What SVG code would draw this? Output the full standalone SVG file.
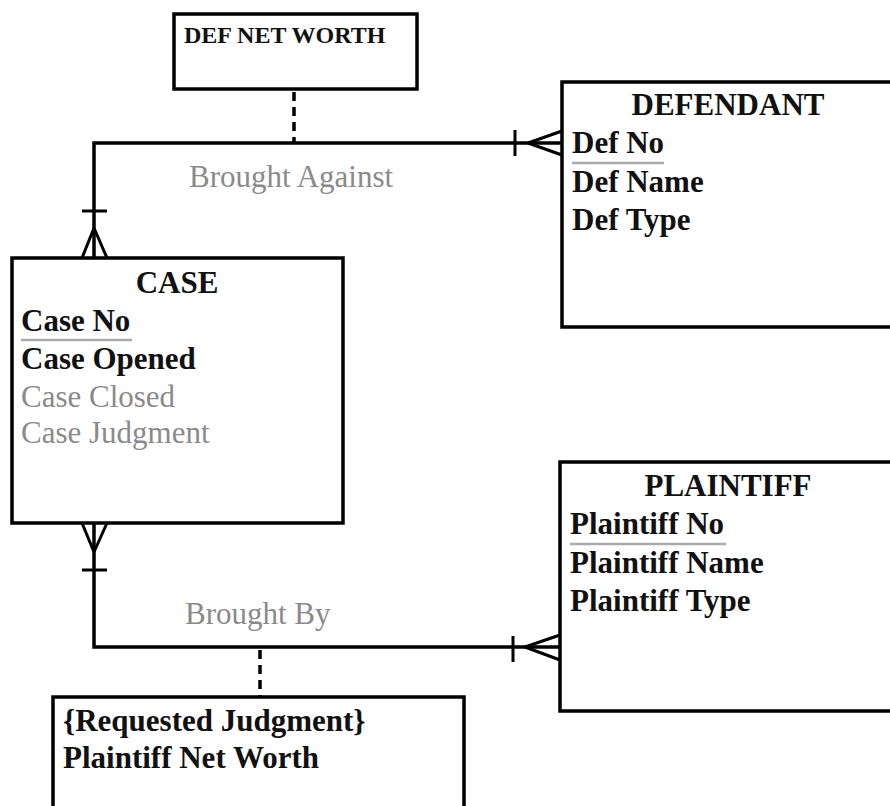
<svg xmlns="http://www.w3.org/2000/svg" width="890" height="806" viewBox="0 0 890 806">
<style>
.box{fill:#fff;stroke:#000;stroke-width:3.5}
.t{font-family:"Liberation Serif","Times New Roman",serif;font-size:31px;fill:#111}
.b{font-weight:bold}
.g{fill:#8a8a8a}
.ttl{font-weight:bold;text-anchor:middle}
.ul{stroke:#aaa;stroke-width:2.5}
.ln{fill:none;stroke:#000;stroke-width:3.5}
.cf{fill:none;stroke:#000;stroke-width:3}
.dash{fill:none;stroke:#000;stroke-width:3.5;stroke-dasharray:9 6}
</style>
<rect width="890" height="806" fill="#fff"/>
<g id="connectors">
  <path class="dash" d="M294 92 V143"/>
  <path class="ln" d="M562 143 H94 V258"/>
  <path class="cf" d="M82 211 H107 M94 228 L82 258 M94 228 L107 258"/>
  <path class="cf" d="M515 130 V156 M528 143 L562 131 M528 143 L562 155"/>
  <path class="ln" d="M94 523 V647 H560"/>
  <path class="dash" d="M260 650 V697"/>
  <path class="cf" d="M82 570 H107 M94 552 L82 523 M94 552 L107 523"/>
  <path class="cf" d="M513 636 V662 M525 647 L560 635 M525 647 L560 660"/>
  <text class="t g" x="189" y="187">Brought Against</text>
  <text class="t g" x="185" y="624">Brought By</text>
</g>
<g id="def-net-worth">
  <rect class="box" x="174" y="14" width="243" height="75"/>
  <text class="t b" x="184" y="43" style="font-size:24px">DEF NET WORTH</text>
</g>
<g id="defendant">
  <rect class="box" x="562" y="82" width="340" height="245"/>
  <text class="t ttl" x="728" y="115">DEFENDANT</text>
  <text class="t b" x="572" y="153">Def No</text>
  <line class="ul" x1="572" y1="163" x2="664" y2="163"/>
  <text class="t b" x="572" y="192">Def Name</text>
  <text class="t b" x="572" y="230">Def Type</text>
</g>
<g id="case">
  <rect class="box" x="12" y="258" width="331" height="265"/>
  <text class="t ttl" x="177" y="293">CASE</text>
  <text class="t b" x="21" y="331">Case No</text>
  <line class="ul" x1="21" y1="340" x2="132" y2="340"/>
  <text class="t b" x="21" y="369">Case Opened</text>
  <text class="t g" x="21" y="407">Case Closed</text>
  <text class="t g" x="21" y="443">Case Judgment</text>
</g>
<g id="plaintiff">
  <rect class="box" x="560" y="462" width="340" height="249"/>
  <text class="t ttl" x="728" y="496">PLAINTIFF</text>
  <text class="t b" x="570" y="534">Plaintiff No</text>
  <line class="ul" x1="570" y1="544" x2="726" y2="544"/>
  <text class="t b" x="570" y="573">Plaintiff Name</text>
  <text class="t b" x="570" y="611">Plaintiff Type</text>
</g>
<g id="requested-judgment">
  <rect class="box" x="53" y="697" width="411" height="130"/>
  <text class="t b" x="63" y="731">{Requested Judgment}</text>
  <text class="t b" x="63" y="768">Plaintiff Net Worth</text>
</g>
</svg>
